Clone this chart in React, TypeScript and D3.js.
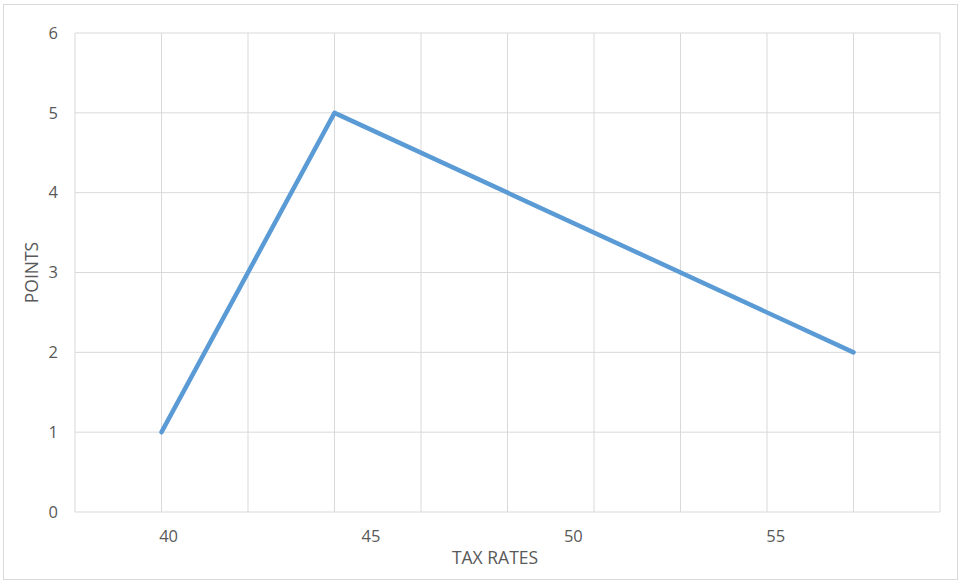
import * as d3 from 'd3';
import { useEffect, useRef } from 'react';

// tax rate of each point and its score
const taxRates = [40, 44, 56];
const points = [1, 5, 2];

// labels shown under the x axis
const xTickLabels = [40, 45, 50, 55];
const yTicks = [0, 1, 2, 3, 4, 5, 6];

export default function App() {
    const chartRef = useRef<SVGSVGElement | null>(null);

    useEffect(() => {
        if (!chartRef.current) return;
        document.body.style.margin = '0';
        const svg = d3.select(chartRef.current);
        svg.selectAll('*').remove();

        const width = 960;
        const height = 582;
        const margin = { top: 33, right: 20, bottom: 70, left: 75 };
        const font = "'Open Sans', sans-serif";
        const textColor = '#595959';
        const gridColor = '#d9d9d9';

        svg.attr('width', width).attr('height', height);

        // chart border
        svg.append('rect')
            .attr('x', 3.5)
            .attr('y', 4.5)
            .attr('width', 954)
            .attr('height', 575)
            .attr('fill', '#fff')
            .attr('stroke', gridColor);

        const x = d3
            .scaleLinear()
            .domain([38, 58])
            .range([margin.left, width - margin.right]);

        // the printed labels follow their own spacing
        const xLabel = d3
            .scaleLinear()
            .domain([37.7, 59.07])
            .range([margin.left, width - margin.right]);

        const y = d3
            .scaleLinear()
            .domain([0, 6])
            .range([height - margin.bottom, margin.top]);

        // grid
        const grid = svg.append('g');
        grid.selectAll('line.v')
            .data(d3.range(38, 58.1, 2))
            .join('line')
            .attr('class', 'v')
            .attr('x1', (d) => x(d))
            .attr('x2', (d) => x(d))
            .attr('y1', y(0))
            .attr('y2', y(6))
            .attr('stroke', gridColor);
        grid.selectAll('line.h')
            .data(yTicks)
            .join('line')
            .attr('class', 'h')
            .attr('x1', x(38))
            .attr('x2', x(58))
            .attr('y1', (d) => y(d))
            .attr('y2', (d) => y(d))
            .attr('stroke', gridColor);

        // X 軸
        svg.append('g')
            .attr('transform', `translate(0,${y(0)})`)
            .call(d3.axisBottom(xLabel).tickValues(xTickLabels).tickSize(0).tickFormat(d3.format('d')))
            .call((g) => g.select('.domain').remove())
            .selectAll('text')
            .attr('y', 18)
            .attr('dy', '0.71em')
            .style('font-family', font)
            .style('font-size', '16.5px')
            .attr('fill', textColor);

        // Y 軸
        svg.append('g')
            .attr('transform', `translate(${margin.left},0)`)
            .call(d3.axisLeft(y).tickValues(yTicks).tickSize(0).tickFormat(d3.format('d')))
            .call((g) => g.select('.domain').remove())
            .selectAll('text')
            .attr('x', -17)
            .style('font-family', font)
            .style('font-size', '16.5px')
            .attr('fill', textColor);

        // axis titles
        svg.append('text')
            .attr('x', 495)
            .attr('y', 564)
            .attr('text-anchor', 'middle')
            .style('font-family', font)
            .style('font-size', '17.5px')
            .attr('fill', textColor)
            .text('TAX RATES');

        svg.append('text')
            .attr('transform', `translate(38,${(y(0) + y(6)) / 2}) rotate(-90)`)
            .attr('text-anchor', 'middle')
            .style('font-family', font)
            .style('font-size', '17.5px')
            .attr('fill', textColor)
            .text('POINTS');

        const line = d3
            .line<number>()
            .x((_, i) => x(taxRates[i]))
            .y((d) => y(d));

        svg.append('path')
            .datum(points)
            .attr('d', line)
            .attr('fill', 'none')
            .attr('stroke', '#5b9bd5')
            .attr('stroke-width', 4.5)
            .attr('stroke-linecap', 'round')
            .attr('stroke-linejoin', 'round');
    }, []);

    return <svg ref={chartRef} style={{ display: 'block' }} />;
}
